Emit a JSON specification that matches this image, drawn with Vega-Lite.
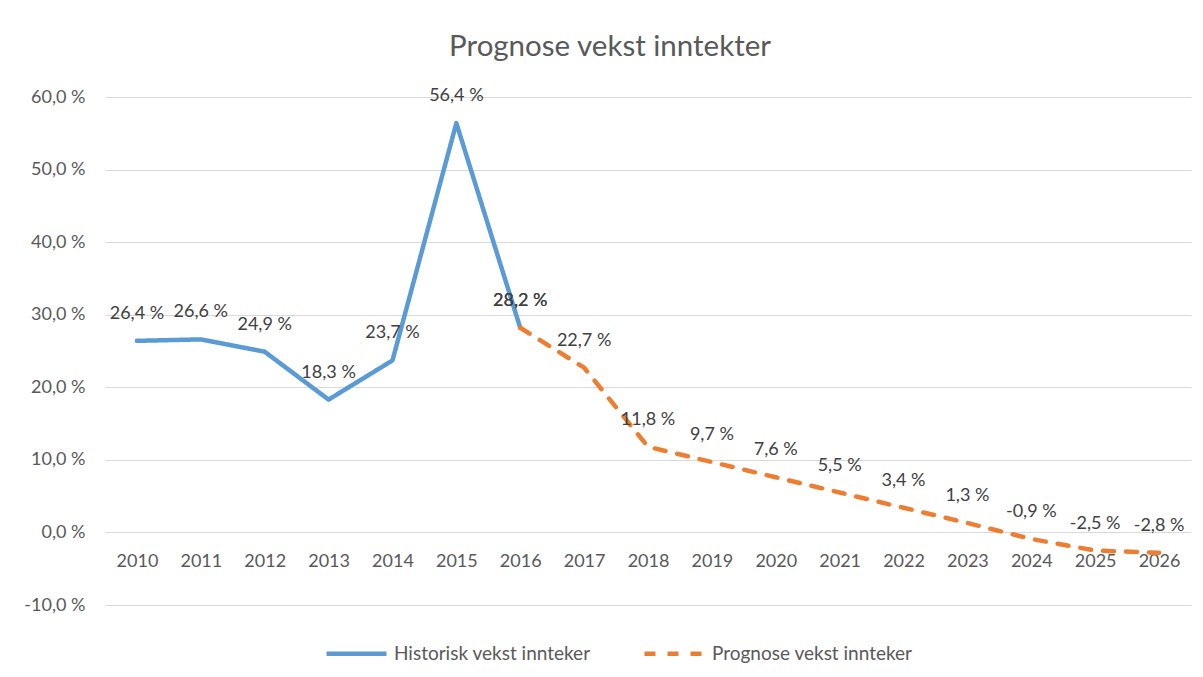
{
  "$schema": "https://vega.github.io/schema/vega-lite/v6.json",
  "width": 1086,
  "height": 508,
  "autosize": {"type": "none"},
  "padding": {"left": 105, "top": 97, "right": 12, "bottom": 72},
  "background": "white",
  "title": {
    "text": "Prognose vekst inntekter",
    "font": "Lato",
    "fontSize": 29.5,
    "fontWeight": "normal",
    "color": "#595959",
    "anchor": "middle",
    "frame": "group",
    "baseline": "alphabetic",
    "dx": -38,
    "offset": 2
  },
  "config": {
    "locale": {
      "number": {"decimal": ",", "thousands": " ", "grouping": [3], "currency": ["", " kr"], "percent": " %", "minus": "-"}
    },
    "view": {"stroke": null},
    "font": "Lato"
  },
  "data": {
    "values": [
      {"year": "2010", "value": 0.264, "series": "Historisk vekst innteker"},
      {"year": "2011", "value": 0.266, "series": "Historisk vekst innteker"},
      {"year": "2012", "value": 0.249, "series": "Historisk vekst innteker"},
      {"year": "2013", "value": 0.183, "series": "Historisk vekst innteker"},
      {"year": "2014", "value": 0.237, "series": "Historisk vekst innteker"},
      {"year": "2015", "value": 0.564, "series": "Historisk vekst innteker"},
      {"year": "2016", "value": 0.282, "series": "Historisk vekst innteker"},
      {"year": "2016", "value": 0.282, "series": "Prognose vekst innteker"},
      {"year": "2017", "value": 0.227, "series": "Prognose vekst innteker"},
      {"year": "2018", "value": 0.118, "series": "Prognose vekst innteker"},
      {"year": "2019", "value": 0.097, "series": "Prognose vekst innteker"},
      {"year": "2020", "value": 0.076, "series": "Prognose vekst innteker"},
      {"year": "2021", "value": 0.055, "series": "Prognose vekst innteker"},
      {"year": "2022", "value": 0.034, "series": "Prognose vekst innteker"},
      {"year": "2023", "value": 0.013, "series": "Prognose vekst innteker"},
      {"year": "2024", "value": -0.009, "series": "Prognose vekst innteker"},
      {"year": "2025", "value": -0.025, "series": "Prognose vekst innteker"},
      {"year": "2026", "value": -0.028, "series": "Prognose vekst innteker"}
    ]
  },
  "encoding": {
    "x": {
      "field": "year",
      "type": "ordinal",
      "scale": {"type": "point", "padding": 0.5},
      "axis": {
        "title": null,
        "orient": "bottom",
        "offset": -73,
        "domain": false,
        "ticks": false,
        "tickSize": 0,
        "grid": false,
        "labelAngle": 0,
        "labelFont": "Lato",
        "labelFontSize": 18,
        "labelColor": "#595959",
        "labelBaseline": "middle",
        "labelPadding": 29
      }
    },
    "y": {
      "field": "value",
      "type": "quantitative",
      "scale": {"domain": [-0.1, 0.6], "nice": false, "zero": false},
      "axis": {
        "title": null,
        "values": [-0.1, 0, 0.1, 0.2, 0.3, 0.4, 0.5, 0.6],
        "format": ".1%",
        "domain": false,
        "ticks": false,
        "tickSize": 0,
        "grid": true,
        "gridColor": "#D9D9D9",
        "gridWidth": 1.2,
        "labelFont": "Lato",
        "labelFontSize": 18,
        "labelColor": "#595959",
        "labelPadding": 20
      }
    }
  },
  "layer": [
    {
      "mark": {"type": "line", "strokeWidth": 4.5, "strokeCap": "round", "strokeJoin": "round"},
      "encoding": {
        "color": {
          "field": "series",
          "type": "nominal",
          "scale": {"domain": ["Historisk vekst innteker", "Prognose vekst innteker"], "range": ["#5B9BD5", "#ED7D31"]},
          "legend": {
            "title": null,
            "orient": "none",
            "legendX": 219,
            "legendY": 524,
            "padding": 0,
            "direction": "horizontal",
            "symbolType": "stroke",
            "symbolSize": 3600,
            "symbolStrokeWidth": 4.5,
            "labelFont": "Lato",
            "labelFontSize": 19,
            "labelColor": "#595959",
            "labelLimit": 400,
            "labelOffset": 5,
            "columnPadding": 44
          }
        },
        "strokeDash": {
          "field": "series",
          "type": "nominal",
          "scale": {"domain": ["Historisk vekst innteker", "Prognose vekst innteker"], "range": [[1, 0], [11, 12]]},
          "legend": {
            "title": null,
            "orient": "none",
            "legendX": 219,
            "legendY": 524,
            "padding": 0,
            "direction": "horizontal",
            "symbolType": "stroke",
            "symbolSize": 3600,
            "symbolStrokeWidth": 4.5,
            "labelFont": "Lato",
            "labelFontSize": 19,
            "labelColor": "#595959",
            "labelLimit": 400,
            "labelOffset": 5,
            "columnPadding": 44
          }
        }
      }
    },
    {
      "mark": {"type": "text", "dy": -27, "fontSize": 18, "font": "Lato", "color": "#404040", "baseline": "middle", "align": "center"},
      "encoding": {
        "text": {"field": "value", "type": "quantitative", "format": ".1%"}
      }
    }
  ]
}
